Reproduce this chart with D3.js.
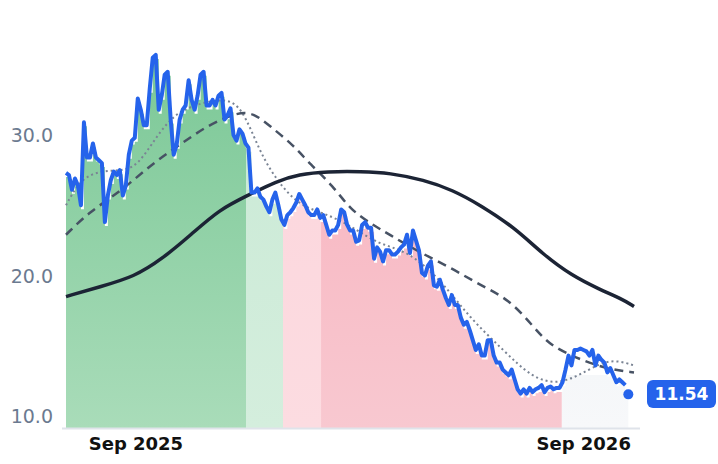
<!DOCTYPE html><html><head><meta charset="utf-8"><script src="https://cdn.jsdelivr.net/npm/d3@7"></script>
<style>body{margin:0;background:#fff}svg{font-family:"DejaVu Sans",sans-serif}</style></head><body><svg id="c" width="718" height="464"></svg>
<script>
const price=[27.3,27.15,26.1,26.9,26.4,25.0,30.9,28.4,28.4,29.4,28.4,28.2,28.0,23.8,25.7,26.8,27.4,27.15,27.5,25.7,26.4,28.6,29.6,29.8,32.6,31.8,30.7,30.7,33.3,35.5,35.7,31.8,32.8,34.3,34.5,31.1,28.6,29.3,31.1,31.8,32.1,33.9,32.5,31.8,32.8,34.3,34.5,32.1,32.1,32.5,32.1,32.8,33.0,31.1,31.4,31.9,30.0,29.6,30.4,30.1,29.4,29.1,25.9,25.9,26.2,25.6,25.4,24.9,24.5,25.4,25.9,25.0,24.0,23.6,24.3,24.5,24.8,25.2,25.8,25.4,25.0,24.5,24.3,24.3,24.7,24.1,24.3,23.6,22.9,23.2,23.2,23.6,24.7,24.5,23.6,23.2,23.2,22.4,22.5,23.6,23.8,23.4,23.4,21.2,22.0,21.7,21.0,21.8,21.8,21.5,21.5,21.7,22.0,22.2,22.9,21.6,23.2,22.5,21.8,20.2,20.0,20.7,21.0,19.3,19.2,19.7,19.0,18.4,17.9,18.6,17.9,17.9,17.0,16.5,16.7,16.1,15.4,14.7,15.1,14.3,14.3,15.4,15.4,14.3,13.8,13.8,13.3,13.1,12.9,13.3,12.6,11.9,11.6,11.9,11.6,12.0,11.7,11.9,12.0,12.2,11.7,12.0,12.1,11.9,12.0,12.0,12.4,13.3,14.3,13.6,14.7,14.7,14.8,14.7,14.6,14.3,14.7,13.6,14.3,14.0,13.8,13.1,13.4,12.9,12.4,12.6,12.4,12.2,11.54];
// moving averages sampled at fractions of the span (0..1)
const maPos=[0,0.06,0.12,0.17,0.22,0.27,0.32,0.37,0.41,0.46,0.52,0.57,0.63,0.68,0.73,0.79,0.84,0.89,0.94,0.98,1];
const sma200=[18.5,19.2,19.9,21.2,22.9,24.7,25.7,26.7,27.2,27.4,27.4,27.3,26.8,26.1,25.0,23.4,21.5,20.0,19.0,18.3,17.8];
const sma50Pos=[0,0.04,0.1,0.15,0.2,0.25,0.3,0.33,0.36,0.4,0.43,0.47,0.5,0.54,0.57,0.62,0.68,0.73,0.78,0.82,0.85,0.89,0.92,0.96,1];
const sma50=[22.9,24.5,26.1,27.9,29.3,30.7,31.6,31.6,30.6,29.3,27.9,26.4,24.7,23.6,22.9,21.7,20.5,19.3,18.3,16.5,15.1,14.3,13.8,13.3,13.1];
const sma20Pos=[0,0.03,0.08,0.12,0.15,0.19,0.24,0.28,0.31,0.34,0.37,0.41,0.45,0.5,0.55,0.6,0.66,0.71,0.77,0.82,0.87,0.92,0.96,1];
const sma20=[25.0,27.2,27.5,27.5,29.3,31.6,32.3,32.6,32.0,28.9,26.8,25.0,24.5,23.6,22.2,21.8,19.7,17.0,14.7,12.7,12.2,13.3,14.1,13.6];
const zoneBreaks=[0,0.317,0.382,0.449,0.873,1];
const zoneColors=[["#7cc897","#a9dcb9"],["#c9e9d5","#d4eedd"],["#fcd5dc","#fcdce1"],["#f8b1bd","#f8c8d0"],["#f5f7f9","#f7f8fa"]];
const yTicks=[10,20,30];
const xTickLabels=["Sep 2025","Sep 2026"];
const xTickDates=[new Date(2025,8,1),new Date(2026,8,1)];
const domainDates=[new Date(2025,6,6),new Date(2026,9,12)];

const svg=d3.select("#c");
const x=d3.scaleTime().domain(domainDates).range([66,634]);
const y=d3.scaleLinear().domain([10,30]).range([416,135]);
const t=d3.scaleLinear().domain([0,1]).range(domainDates.map(Number));
const n=price.length;
const pts=price.map((v,i)=>({d:new Date(t(i/(n-1)*0.99)),v}));
const bottom=428;
const defs=svg.append("defs");
zoneColors.forEach((c,i)=>{const g=defs.append("linearGradient").attr("id","g"+i).attr("x1",0).attr("x2",0).attr("y1",0).attr("y2",1);
 g.append("stop").attr("offset","0%").attr("stop-color",c[0]);g.append("stop").attr("offset","100%").attr("stop-color",c[1]);
 const x0=x(new Date(t(zoneBreaks[i]))),x1=x(new Date(t(zoneBreaks[i+1])));
 defs.append("clipPath").attr("id","cp"+i).append("rect").attr("x",x0).attr("y",0).attr("width",x1-x0).attr("height",bottom);});
const area=d3.area().x(p=>x(p.d)).y0(bottom).y1(p=>y(p.v)+4).curve(d3.curveStepAfter);
zoneColors.forEach((c,i)=>{svg.append("path").datum(i===4?pts.map(p=>({d:p.d,v:Math.min(p.v,13.2)})):pts).attr("d",area).attr("fill",`url(#g${i})`).attr("clip-path",`url(#cp${i})`);});
svg.append("line").attr("x1",62).attr("x2",640).attr("y1",bottom+0.5).attr("y2",bottom+0.5).attr("stroke","#dfe3ea").attr("stroke-width",2);
const ln=(pos,vals)=>d3.line().x((v,i)=>x(new Date(t(pos[i])))).y(v=>y(v)).curve(d3.curveBasis)(vals);
svg.append("path").attr("d",ln(sma20Pos,sma20)).attr("fill","none").attr("stroke","#7a8494").attr("stroke-width",2).attr("stroke-dasharray","2,3");
svg.append("path").attr("d",ln(sma50Pos,sma50)).attr("fill","none").attr("stroke","#475264").attr("stroke-width",2.5).attr("stroke-dasharray","9,6");
svg.append("path").attr("d",ln(maPos,sma200)).attr("fill","none").attr("stroke","#1c2435").attr("stroke-width",3.5);
svg.append("path").datum(pts.slice(0,-1)).attr("d",d3.line().x(p=>x(p.d)).y(p=>y(p.v))).attr("fill","none").attr("stroke","#2563eb").attr("stroke-width",4).attr("stroke-linejoin","round");
const last=pts[n-1];
svg.append("circle").attr("cx",x(last.d)).attr("cy",y(last.v)).attr("r",5).attr("fill","#2563eb");
svg.append("rect").attr("x",647).attr("y",380).attr("width",69).attr("height",28).attr("rx",6).attr("fill","#2563eb");
svg.append("text").attr("x",681.5).attr("y",400).attr("text-anchor","middle").attr("fill","#fff").attr("font-weight","bold").attr("font-size",17).text(last.v.toFixed(2));
yTicks.forEach(v=>svg.append("text").attr("x",53).attr("y",y(v)+7).attr("text-anchor","end").attr("fill","#6b7a90").attr("font-size",19).text(v.toFixed(1)));
xTickDates.forEach((d,i)=>svg.append("text").attr("x",x(d)).attr("y",450).attr("text-anchor","middle").attr("fill","#111").attr("font-weight","bold").attr("font-size",18).text(xTickLabels[i]));
</script></body></html>
